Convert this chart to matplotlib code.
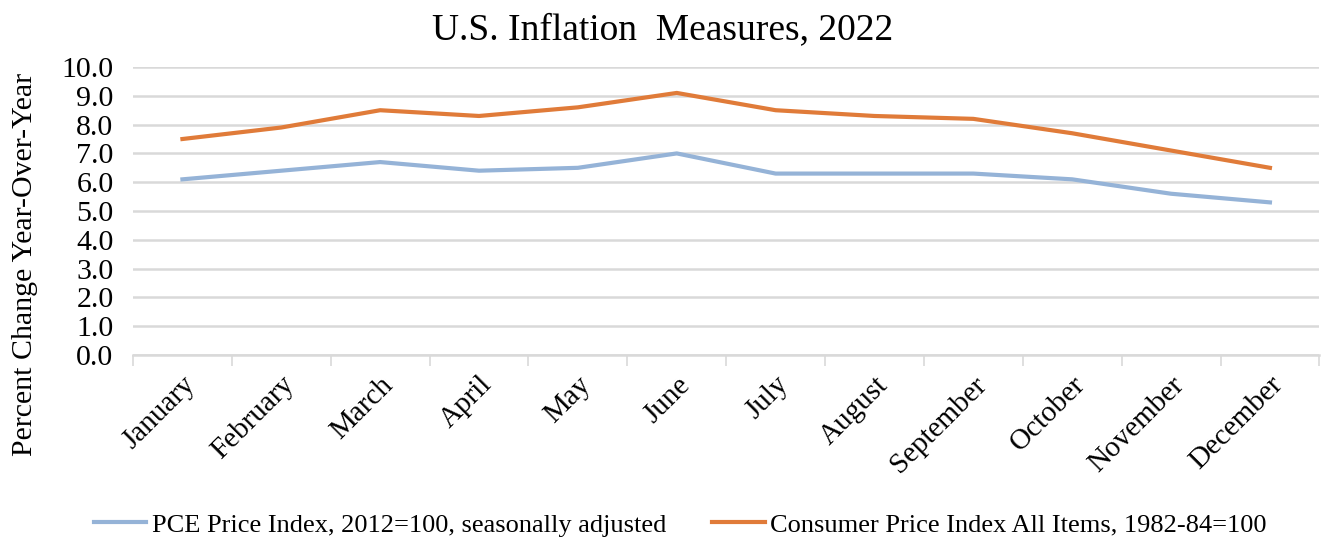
import matplotlib.pyplot as plt
import numpy as np

plt.rcParams['font.family'] = ['Liberation Serif', 'DejaVu Serif']

# 2022 월별 물가 상승률 (전년 동월 대비, %)
months = ['January', 'February', 'March', 'April', 'May', 'June',
          'July', 'August', 'September', 'October', 'November', 'December']
pce = [6.1, 6.4, 6.7, 6.4, 6.5, 7.0, 6.3, 6.3, 6.3, 6.1, 5.6, 5.3]
cpi = [7.5, 7.9, 8.5, 8.3, 8.6, 9.1, 8.5, 8.3, 8.2, 7.7, 7.1, 6.5]
pce_label = 'PCE Price Index, 2012=100, seasonally adjusted'
cpi_label = 'Consumer Price Index All Items, 1982-84=100'
yticks = np.arange(0, 10.5, 1.0)

fig = plt.figure(figsize=(13.26, 5.44), dpi=100)
ax = fig.add_axes([0.1003, 0.3474, 0.8947, 0.5294])

x = np.arange(len(months))
ax.plot(x, pce, color='#95B3D7', lw=3, label=pce_label)
ax.plot(x, cpi, color='#E07B39', lw=3, label=cpi_label)

ax.set_xlim(-0.5, len(months) - 0.5)
ax.set_ylim(0, 10)
ax.set_yticks(yticks)
ax.set_yticklabels([f'{v:.1f}' for v in yticks], fontsize=21.5)
ax.yaxis.grid(True, color='#D9D9D9', lw=1.8)
ax.set_axisbelow(True)

ax.set_xticks(x)
ax.set_xticklabels(months, rotation=45, ha='right', rotation_mode='anchor', fontsize=21)
ax.set_xticks(np.arange(-0.5, len(months)), minor=True)
ax.tick_params(axis='x', which='major', length=0, pad=12)
ax.tick_params(axis='x', which='minor', length=8, width=1.2, color='#D9D9D9')
ax.tick_params(axis='y', length=0, pad=14)

for s in ['top', 'right', 'left']:
    ax.spines[s].set_visible(False)
ax.spines['bottom'].set_color('#D9D9D9')
ax.spines['bottom'].set_linewidth(1.8)

fig.text(0.5, 0.945, 'U.S. Inflation  Measures, 2022', ha='center', va='center', fontsize=27)
fig.text(0.019, 0.513, 'Percent Change Year-Over-Year', rotation=90, ha='center', va='center', fontsize=21.5)

fig.legend(loc='lower center', bbox_to_anchor=(0.513, -0.03), ncol=2, frameon=False,
           prop={'family': 'Liberation Serif', 'size': 19},
           handlelength=2.0, columnspacing=1.75, handletextpad=0.2)

plt.savefig('out.png')
plt.close()
